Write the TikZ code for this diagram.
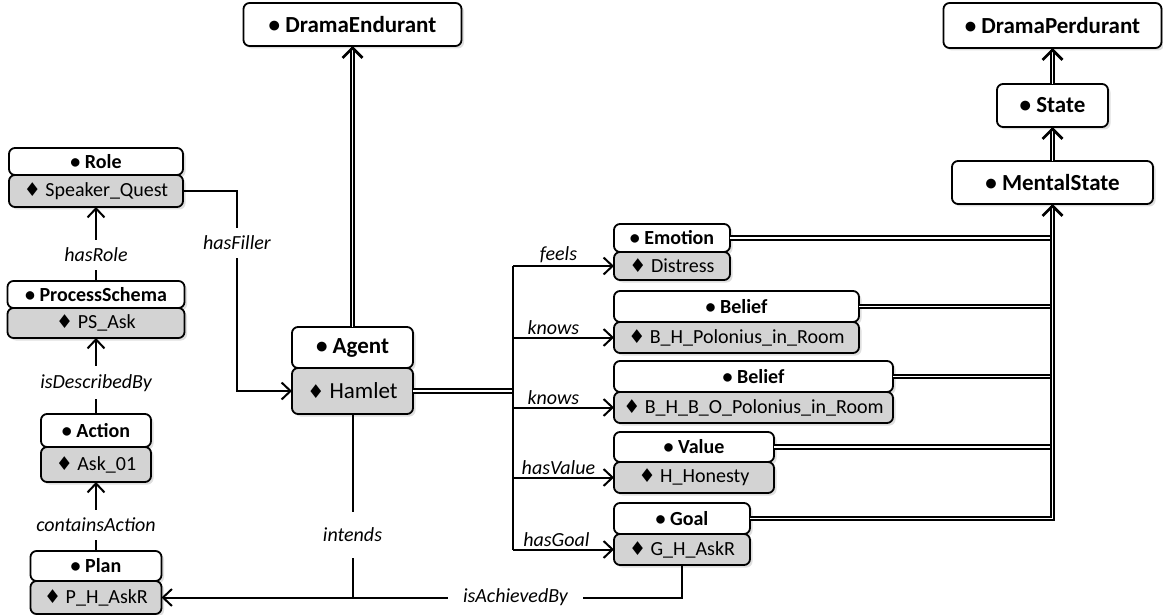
\documentclass[tikz,border=0pt]{standalone}
\usepackage{fontspec}
\setmainfont{Carlito}
\newfontfamily\diafont{DejaVu Sans}
\usetikzlibrary{arrows.meta,positioning,calc,shadows}
\definecolor{instgray}{HTML}{D3D3D3}
\newcommand{\dia}{{\diafont\fontsize{19}{22}\selectfont\char"2666}}
\newcommand{\bigsize}{\fontsize{23}{27}\selectfont}
\newcommand{\smallsize}{\fontsize{20}{24}\selectfont}
\tikzset{
    %Define standard arrow tip
    >={Straight Barb[length=9pt,width=17pt]},
    %Define style for boxes
    cls/.style={
           draw, line width=1.8pt, rounded corners=6pt, fill=white,
           inner sep=0pt, outer sep=0pt, text centered,
           font=\bfseries\smallsize,
           drop shadow={shadow xshift=2.5pt,shadow yshift=-2.5pt,opacity=0.25}},
    inst/.style={
           cls, fill=instgray, font=\smallsize},
    upbox/.style={
           cls, font=\bfseries\bigsize},
    % Define label styles
    lbl/.style={
           font=\itshape\smallsize, fill=white, inner xsep=3pt, inner ysep=8pt},
    rel/.style={
           font=\itshape\smallsize, inner sep=2pt},
    % Define arrow styles
    pil/.style={
           ->, line width=2pt},
    isa/.style={
           double, double distance=1.6pt, line width=1.9pt},
    isatip/.style={
           -{Straight Barb[length=10pt,width=20pt]}, line width=2.8pt}
}

\begin{document}
\begin{tikzpicture}[x=1pt,y=-1pt]
    \useasboundingbox (0,0) rectangle (1163,615);

    % top classes
    \node[upbox, minimum width=218pt, minimum height=43pt](de) at (352.5,24.5){\textbullet\ DramaEndurant};
    \node[upbox, minimum width=218pt, minimum height=45pt](dp) at (1052.5,25.5){\textbullet\ DramaPerdurant};
    \node[upbox, minimum width=111pt, minimum height=43pt](st) at (1052.5,105.5){\textbullet\ State};
    \node[upbox, minimum width=201pt, minimum height=43pt](ms) at (1052.5,182.5){\textbullet\ MentalState};

    % agent
    \node[upbox, minimum width=121pt, minimum height=41pt, anchor=north](ag) at (352.5,327){\textbullet\ Agent};
    \node[inst, font=\bigsize, minimum width=121pt, minimum height=46pt, below=0pt of ag](ham){\dia\ Hamlet};

    % left column
    \node[cls, minimum width=174pt, minimum height=27pt, anchor=north](role) at (96,148){\textbullet\ Role};
    \node[inst, minimum width=174pt, minimum height=32pt, below=0pt of role](spk){\dia\ Speaker\_Quest};
    \node[cls, minimum width=177pt, minimum height=27pt, anchor=north](ps) at (96,281){\textbullet\ ProcessSchema};
    \node[inst, minimum width=177pt, minimum height=30pt, below=0pt of ps](psask){\dia\ PS\_Ask};
    \node[cls, minimum width=110pt, minimum height=33pt, anchor=north](act) at (96,414){\textbullet\ Action};
    \node[inst, minimum width=110pt, minimum height=35pt, below=0pt of act](ask){\dia\ Ask\_01};
    \node[cls, minimum width=131pt, minimum height=30pt, anchor=north](plan) at (96,551){\textbullet\ Plan};
    \node[inst, minimum width=131pt, minimum height=33pt, below=0pt of plan](pah){\dia\ P\_H\_AskR};

    % mental states
    \node[cls, minimum width=116pt, minimum height=28pt, anchor=north west](emo) at (614,224){\textbullet\ Emotion};
    \node[inst, minimum width=116pt, minimum height=28pt, below=0pt of emo](dis){\dia\ Distress};
    \node[cls, minimum width=245pt, minimum height=31pt, anchor=north west](bel1) at (614,291){\textbullet\ Belief};
    \node[inst, minimum width=245pt, minimum height=31pt, below=0pt of bel1](bhp){\dia\ B\_H\_Polonius\_in\_Room};
    \node[cls, minimum width=279pt, minimum height=31pt, anchor=north west](bel2) at (614,361){\textbullet\ Belief};
    \node[inst, minimum width=279pt, minimum height=31pt, below=0pt of bel2](bhbo){\dia\ B\_H\_B\_O\_Polonius\_in\_Room};
    \node[cls, minimum width=160pt, minimum height=30pt, anchor=north west](val) at (614,432){\textbullet\ Value};
    \node[inst, minimum width=160pt, minimum height=31pt, below=0pt of val](hon){\dia\ H\_Honesty};
    \node[cls, minimum width=136pt, minimum height=31pt, anchor=north west](goal) at (614,503){\textbullet\ Goal};
    \node[inst, minimum width=136pt, minimum height=31pt, below=0pt of goal](gask){\dia\ G\_H\_AskR};

    % is-a links
    \draw[isa, shorten >=2pt] (ag) -- (de);
    \draw[isatip] ([yshift=-1pt]de.south) -- (de.south);
    \draw[isa, shorten >=2pt] (ms) -- (st);
    \draw[isatip] ([yshift=-1pt]st.south) -- (st.south);
    \draw[isa, shorten >=2pt] (st) -- (dp);
    \draw[isatip] ([yshift=-1pt]dp.south) -- (dp.south);

    \draw[isa] (emo.east) -- (emo.east -| ms.south);
    \draw[isa] (bel1.east) -- (bel1.east -| ms.south);
    \draw[isa] (bel2.east) -- (bel2.east -| ms.south);
    \draw[isa] (val.east) -- (val.east -| ms.south);
    \draw[isa, shorten >=2pt] (goal.east) -| (ms.south);
    \draw[isatip] ([yshift=-1pt]ms.south) -- (ms.south);

    % left chain
    \draw[pil] (ps) -- node[lbl, pos=.35]{hasRole} (spk);
    \draw[pil] (act) -- node[lbl, pos=.41]{isDescribedBy} (psask);
    \draw[pil] (plan) -- node[lbl, pos=.38]{containsAction} (ask);
    \draw[pil] (spk.east) -| ([xshift=-55pt]ham.west) node[lbl, pos=.63]{hasFiller} -- (ham.west);

    % hamlet relations
    \coordinate (fork) at ($(ham.east)+(100,0)$);
    \draw[isa] (ham.east) -- (fork);
    \draw[line width=2pt] (fork |- dis.west) -- (fork |- gask.west);
    \draw[pil] (fork |- dis.west) -- node[rel, above, pos=.45]{feels} (dis.west);
    \draw[pil] (fork |- bhp.west) -- node[rel, above, pos=.4]{knows} (bhp.west);
    \draw[pil] (fork |- bhbo.west) -- node[rel, above, pos=.4]{knows} (bhbo.west);
    \draw[pil] (fork |- hon.west) -- node[rel, above, pos=.45]{hasValue} (hon.west);
    \draw[pil] (fork |- gask.west) -- node[rel, above, pos=.43]{hasGoal} (gask.west);

    % plan links
    \draw[pil] (gask.south) |- node[lbl, pos=.66, inner xsep=15pt]{isAchievedBy} (pah.east);
    \draw[line width=2pt] (ham.south) -- node[lbl, pos=.66, inner ysep=16pt]{intends} (ham.south |- pah.east);
\end{tikzpicture}
\end{document}
